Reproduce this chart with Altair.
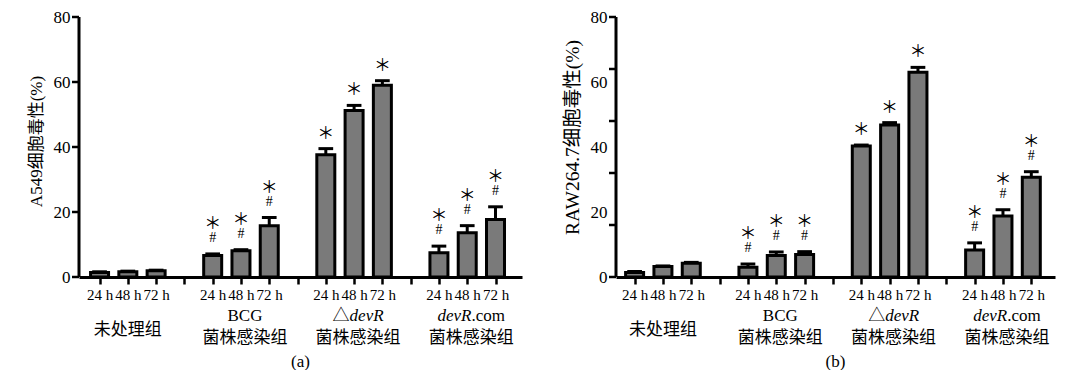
import altair as alt
import pandas as pd

# ---------------- data ----------------
group_title = ["未处理组", "BCG", "△devR", "devR.com"]
group_subtitle = ["", "菌株感染组", "菌株感染组", "菌株感染组"]
time_labels = ["24 h", "48 h", "72 h"]

a549_mean = [1.4, 1.6, 1.9, 6.6, 8.1, 15.8, 37.6, 51.2, 59.0, 7.5, 13.6, 17.7]
a549_sem = [0.2, 0.2, 0.2, 0.5, 0.3, 2.5, 1.9, 1.6, 1.4, 2.0, 2.2, 3.9]
raw_mean = [1.4, 3.2, 4.2, 3.0, 6.6, 6.9, 40.3, 46.8, 63.0, 8.3, 18.8, 30.7]
raw_sem = [0.3, 0.2, 0.3, 1.0, 1.1, 0.9, 0.3, 0.7, 1.5, 2.2, 1.9, 1.7]
star_mark = [False, False, False, True, True, True, True, True, True, True, True, True]
hash_mark = [False, False, False, True, True, True, False, False, False, True, True, True]

y_label_values = [0, 20, 40, 60, 80]
y_tick_values_a = [0, 20, 40, 60, 80]
y_tick_values_b = [0, 16, 32, 48, 64, 80]

SERIF = "Liberation Serif, Noto Sans CJK SC"
ITALIC_PART = "devR"
CHAR_EM = {"△": 1.0, "d": 0.5, "e": 0.444, "v": 0.444, "R": 0.611, ".": 0.25,
           "c": 0.444, "o": 0.5, "m": 0.778}


def text_width(s, fs):
    return sum(CHAR_EM.get(ch, 0.5) for ch in s) * fs


def make_panel(means, sems, ytitle, caption, width, height, x_domain, tick_values,
               label_shift, title_size, title_y):
    step_slots = len(time_labels) + 1
    rows = []
    for g, gname in enumerate(group_title):
        for t, tname in enumerate(time_labels):
            i = g * len(time_labels) + t
            rows.append(dict(group=gname, time=tname, slot=g * step_slots + t,
                             mean=means[i], top=means[i] + sems[i],
                             star=star_mark[i], hash=hash_mark[i]))
    df = pd.DataFrame(rows)
    gdf = pd.DataFrame(dict(title=group_title, subtitle=group_subtitle,
                            center=[g * step_slots + 1 for g in range(len(group_title))]))
    n_slots = len(group_title) * step_slots - 1

    label_arr = "[" + ",".join("'%s'" % s for s in time_labels + [""]) + "]"
    xscale = alt.Scale(domain=x_domain, nice=False, zero=False)
    xaxis = alt.Axis(values=list(range(n_slots)), labelExpr=label_arr + "[datum.value %% %d]" % step_slots,
                     title=None, grid=False, domain=True, ticks=True, labels=True,
                     tickSize=7, tickWidth=2.5, tickColor="black",
                     domainWidth=3, domainColor="black", labelFont=SERIF, labelFontSize=15,
                     labelColor="black", labelPadding=3, labelAngle=0, orient="bottom")
    yscale = alt.Scale(domain=[0, 80], nice=False)
    yaxis = alt.Axis(values=y_label_values, grid=False, domain=False, ticks=False,
                     labelFont=SERIF, labelFontSize=17, labelColor="black",
                     labelPadding=9, orient="left",
                     title=ytitle, titleFont=SERIF, titleFontSize=title_size,
                     titleFontWeight="normal", titleColor="black", titlePadding=8,
                     titleY=title_y)

    def XQ(field):
        return alt.X(field, scale=xscale, axis=xaxis)

    def YQ(field):
        return alt.Y(field, scale=yscale, axis=yaxis)

    base = alt.Chart(df)

    err = base.mark_rule(color="black", strokeWidth=3).encode(
        x=XQ("slot:Q"), y=YQ("mean:Q"), y2="top:Q")
    cap = base.transform_calculate(lo="datum.slot - 0.26", hi="datum.slot + 0.26").mark_rule(
        color="black", strokeWidth=3).encode(x=XQ("lo:Q"), x2="hi:Q", y=YQ("top:Q"))
    bars = base.mark_bar(size=18, fill="#7a7a7a", stroke="black", strokeWidth=3).encode(
        x=XQ("slot:Q"), y=YQ("mean:Q"), y2=alt.datum(0))
    hash_t = base.transform_filter("datum.hash").mark_text(
        text="#", font=SERIF, fontSize=14, baseline="middle", dy=-16, color="black").encode(
        x=XQ("slot:Q"), y=YQ("top:Q"))
    star_h = base.transform_filter("datum.star && datum.hash").mark_text(
        text="＊", font="Noto Sans CJK SC", fontSize=17, baseline="middle", dy=-30, color="black").encode(
        x=XQ("slot:Q"), y=YQ("top:Q"))
    star_n = base.transform_filter("datum.star && !datum.hash").mark_text(
        text="＊", font="Noto Sans CJK SC", fontSize=17, baseline="middle", dy=-15, color="black").encode(
        x=XQ("slot:Q"), y=YQ("top:Q"))

    tdf = pd.DataFrame(dict(v=tick_values))
    ticks = alt.Chart(tdf).mark_rule(color="black", strokeWidth=2.5).encode(
        x=alt.value(-7), x2=alt.value(0), y=YQ("v:Q"))
    ydomain = alt.Chart(tdf).transform_aggregate(lo="min(v)", hi="max(v)").mark_rule(
        color="black", strokeWidth=3).encode(x=alt.value(0), y=YQ("lo:Q"), y2="hi:Q")

    layers = [err, cap, bars, hash_t, star_h, star_n, ticks]

    gbase = alt.Chart(gdf)
    GX = XQ("center:Q")
    fs = 17
    y1 = height + 39
    y_single = height + 53
    y2 = height + 61
    layers.append(gbase.transform_filter("datum.subtitle == ''").mark_text(
        font=SERIF, fontSize=fs, baseline="middle", color="black").encode(
        x=GX, y=alt.value(y_single), text="title:N"))
    layers.append(gbase.transform_filter("datum.subtitle != ''").mark_text(
        font=SERIF, fontSize=fs, baseline="middle", color="black", dx=label_shift).encode(
        x=GX, y=alt.value(y2), text="subtitle:N"))
    layers.append(gbase.transform_filter(
        "datum.subtitle != '' && indexof(datum.title, '%s') < 0" % ITALIC_PART).mark_text(
        font=SERIF, fontSize=fs, baseline="middle", color="black", dx=label_shift).encode(
        x=GX, y=alt.value(y1), text="title:N"))
    for title in group_title:
        if ITALIC_PART not in title:
            continue
        pre, post = title.split(ITALIC_PART, 1)
        total = text_width(pre, fs) + text_width(ITALIC_PART, fs) + text_width(post, fs)
        a = -total / 2 + text_width(pre, fs) + label_shift
        b = a + text_width(ITALIC_PART, fs)
        flt = "datum.title == '%s'" % title
        if pre:
            layers.append(gbase.transform_filter(flt).transform_calculate(
                piece="split(datum.title, '%s')[0]" % ITALIC_PART).mark_text(
                font=SERIF, fontSize=fs, baseline="middle", align="right", dx=a, color="black").encode(
                x=GX, y=alt.value(y1), text="piece:N"))
        layers.append(gbase.transform_filter(flt).transform_calculate(
            piece="'%s'" % ITALIC_PART).mark_text(
            font=SERIF, fontSize=fs, fontStyle="italic", baseline="middle", align="left", dx=a,
            color="black").encode(x=GX, y=alt.value(y1), text="piece:N"))
        if post:
            layers.append(gbase.transform_filter(flt).transform_calculate(
                piece="split(datum.title, '%s')[1]" % ITALIC_PART).mark_text(
                font=SERIF, fontSize=fs, baseline="middle", align="left", dx=b, color="black").encode(
                x=GX, y=alt.value(y1), text="piece:N"))
    layers.append(gbase.transform_filter("datum.center == 1").mark_text(
        text=caption, font=SERIF, fontSize=17, baseline="middle", color="black").encode(
        x=alt.value(width / 2), y=alt.value(height + 85)))
    layers.append(ydomain)

    return alt.layer(*layers).properties(width=width, height=height)


panel_a = make_panel(a549_mean, a549_sem, "A549细胞毒性(%)", "(a)", 443, 260,
                     [-0.55, 14.76], y_tick_values_a, 4, 17, 124)
panel_b = make_panel(raw_mean, raw_sem, "RAW264.7细胞毒性(%)", "(b)", 439, 260,
                     [-0.48, 14.66], y_tick_values_b, 4, 19.5, 120)

chart = alt.hconcat(panel_a, panel_b, spacing=40).properties(
    padding={"left": 19, "top": 0, "right": 5, "bottom": 0}
).configure_view(stroke=None).configure_axis(grid=False)

chart.save("out.html", embed_options={"renderer": "svg", "actions": False})
